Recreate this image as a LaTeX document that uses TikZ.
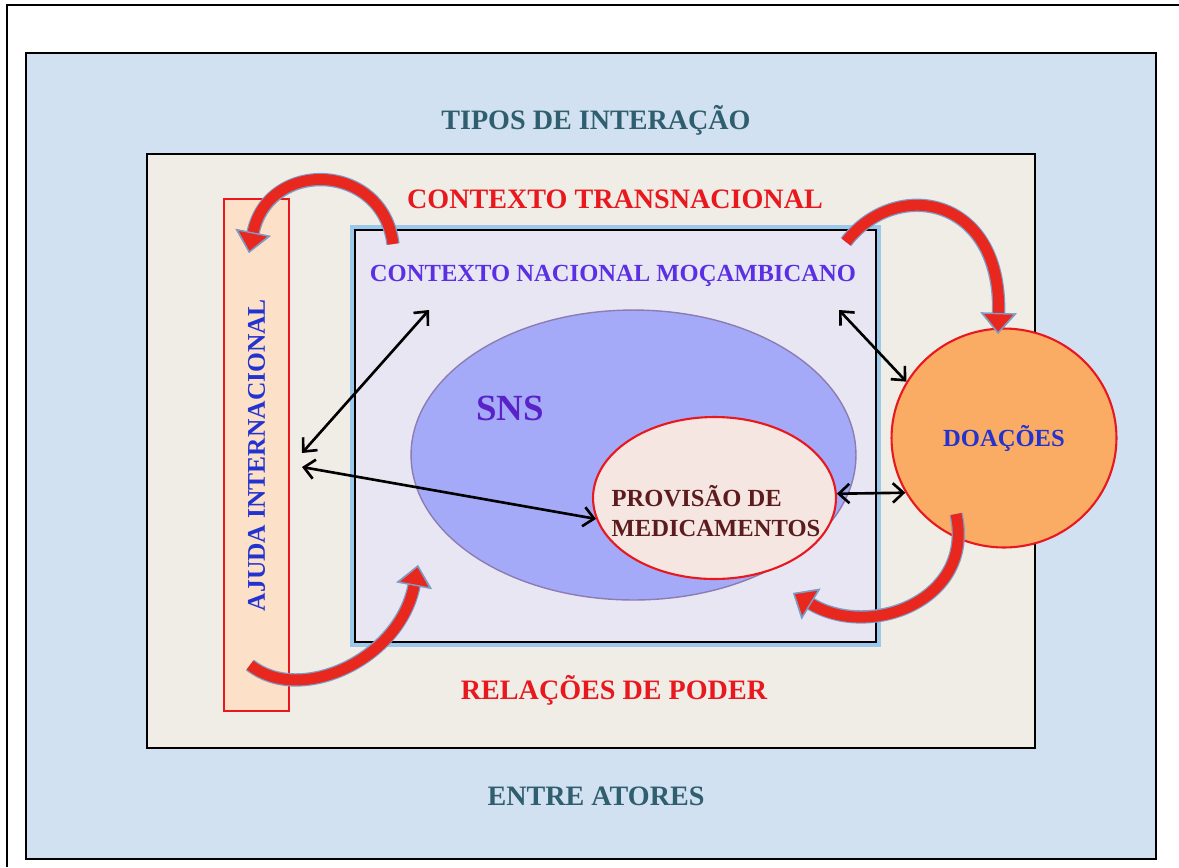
\documentclass[tikz,border=0pt]{standalone}
\usepackage{fontspec}
\setmainfont{Liberation Serif}
\usetikzlibrary{arrows.meta}
\usetikzlibrary{positioning}
\usetikzlibrary{shapes.geometric}
\definecolor{fundoazul}{HTML}{D2E1F1}
\definecolor{fundobege}{HTML}{F0EDE6}
\definecolor{fundolilas}{HTML}{E8E6F2}
\definecolor{brilho}{HTML}{9CC8EC}
\definecolor{snsazul}{HTML}{A5AAF8}
\definecolor{snsborda}{HTML}{8C7CB4}
\definecolor{rosaclaro}{HTML}{F6E6E2}
\definecolor{laranja}{HTML}{FBAC64}
\definecolor{pessego}{HTML}{FDE0C8}
\definecolor{vermelho}{HTML}{E8181E}
\definecolor{arcoazul}{HTML}{7E9CC6}
\definecolor{arcovermelho}{HTML}{E8281E}
\definecolor{petroleo}{HTML}{2F5E6E}
\definecolor{roxo}{HTML}{5B30E4}
\definecolor{roxoescuro}{HTML}{5A22C8}
\definecolor{marron}{HTML}{5C1C1E}
\definecolor{azultexto}{HTML}{2233D0}
\tikzset{titulo/.style = {font=\fontsize{16}{19}\selectfont\bfseries},
         rotulo/.style = {font=\fontsize{14}{17}\selectfont\bfseries},
         dupla/.style  = {line width=1.5pt, {Straight Barb[length=6pt,width=11pt]}-{Straight Barb[length=6pt,width=11pt]}},
         arcoborda/.style = {draw=arcoazul, line width=7.6pt,
                             -{Triangle[length=12pt,width=20pt]}},
         arcocheio/.style = {draw=arcovermelho, line width=6.2pt,
                             -{Triangle[length=12pt,width=20pt,fill=arcovermelho,color=arcoazul,line width=0.8pt]}}}
\newcommand{\arcovermelho}[1]{\draw[arcoborda] #1; \draw[arcocheio] #1;}

\begin{document}
\begin{tikzpicture}[x=0.02cm, y=-0.02cm]
        \useasboundingbox (0,0) rectangle (1179,867);
        \draw[line width=1pt] (7,867) -- (7,5) -- (1179,5);
        % caixas
        \draw[fill=fundoazul, line width=1.4pt] (26,53) rectangle (1156,859);
        \draw[fill=fundobege, line width=1.2pt] (147,154) rectangle (1035,748);
        \node[draw=vermelho, fill=pessego, line width=1pt, minimum width=1.3cm, minimum height=10.24cm] (ajuda) at (256.5,455) {};
        \draw[brilho, line width=3pt] (353,228) rectangle (878,644);
        \node[draw, fill=fundolilas, line width=1.2pt, minimum width=10.42cm, minimum height=8.24cm] (nacbox) at (615.5,436) {};
        \node[ellipse, draw=snsborda, fill=snsazul, line width=0.8pt, minimum width=8.9cm, minimum height=5.8cm] (snsell) at (633.5,455) {};
        \node[ellipse, draw=vermelho, fill=rosaclaro, line width=1.2pt, minimum width=4.86cm, minimum height=3.24cm] (provisao) at (714.5,498) {};
        \node[ellipse, draw=vermelho, fill=laranja, line width=1.2pt, minimum width=4.5cm, minimum height=4.38cm] (doacoes) at (1004,438) {};
        % textos
        \node[titulo, text=petroleo] (tipos) at (596,120) {TIPOS DE INTERAÇÃO};
        \node[titulo, text=vermelho] (transnac) at (615,199) {CONTEXTO TRANSNACIONAL};
        \node[rotulo, text=roxo] (nacional) at (613,276) {CONTEXTO NACIONAL MOÇAMBICANO};
        \node[font=\fontsize{21}{24}\selectfont\bfseries, text=roxoescuro] (sns) at (510,408) {SNS};
        \node[rotulo, text=marron, align=left] at (716,511) {PROVISÃO DE\\MEDICAMENTOS};
        \node[rotulo, text=azultexto] at (doacoes) {DOAÇÕES};
        \node[font=\fontsize{14.5}{17}\selectfont\bfseries, text=azultexto, rotate=90] at (ajuda) {AJUDA INTERNACIONAL};
        \node[titulo, text=vermelho] (relacoes) at (614,690) {RELAÇÕES DE PODER};
        \node[titulo, text=petroleo] (entre) at (596,796) {ENTRE ATORES};
        % setas pretas
        \coordinate (aj1) at (302,453);
        \coordinate (aj2) at (302,467);
        \coordinate (nac1) at (429,310);
        \coordinate (nac2) at (839,310);
        \draw[dupla] (aj1) -- (nac1);
        \draw[dupla] (aj2) -- (provisao.190);
        \draw[dupla] (nac2) -- (doacoes.150);
        \draw[dupla] (provisao.2) -- (doacoes.209);
        % setas curvas
        \arcovermelho{(393,244) .. controls (383,162) and (268,158) .. (249,253)}
        \arcovermelho{(846,242) .. controls (895,178) and (1002,195) .. (998,334)}
        \arcovermelho{(250,665) .. controls (300,705) and (400,660) .. (418,565)}
        \arcovermelho{(956,514) .. controls (975,600) and (870,640) .. (793,593)}
    \end{tikzpicture}
\end{document}
